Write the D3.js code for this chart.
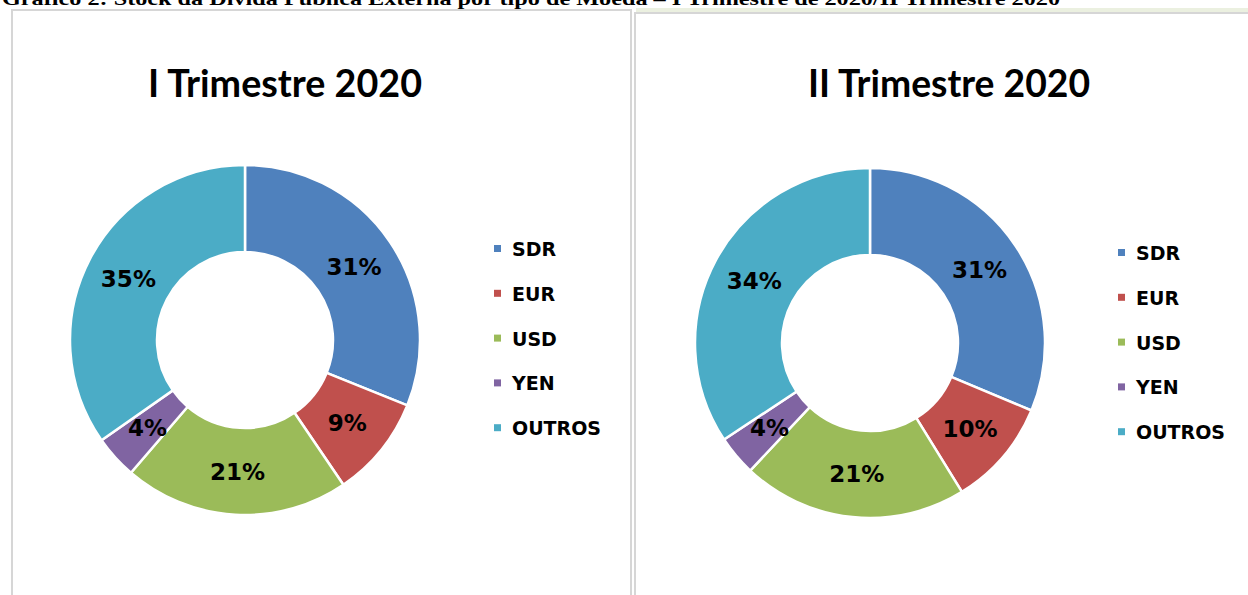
<!DOCTYPE html>
<html>
<head>
<meta charset="utf-8">
<script src="https://cdn.jsdelivr.net/npm/d3@7"></script>
<style>
  body { margin: 0; background: #fff; }
  svg { display: block; }
  .pct { font-family: "DejaVu Sans", sans-serif; font-weight: bold; font-size: 23px; fill: #000; }
  .ttl { font-family: Lato, "DejaVu Sans", sans-serif; font-weight: bold; font-size: 38px; fill: #000; }
  .leg { font-family: "DejaVu Sans", sans-serif; font-weight: bold; font-size: 19px; fill: #000; }
</style>
</head>
<body>
<div id="chart"></div>
<script>
// data
const categories = ['SDR', 'EUR', 'USD', 'YEN', 'OUTROS'];
const colors = ['#4F81BD', '#C0504D', '#9BBB59', '#8064A2', '#4BACC6'];
const q1Values = [31.1, 9.4, 20.8, 4.0, 34.7];
const q2Values = [31.3, 9.9, 20.8, 3.7, 34.3];
const titles = ['I Trimestre 2020', 'II Trimestre 2020'];
const headline = 'Gráfico 2: Stock da Dívida Pública Externa por tipo de Moeda – I Trimestre de 2020/II Trimestre 2020';

const W = 1248, H = 595;

const svg = d3.select('#chart').append('svg')
    .attr('width', W).attr('height', H);

// caption at the very top, clipped by the page edge as in the original
svg.append('text')
    .attr('x', 2).attr('y', 5)
    .attr('textLength', 1058)
    .attr('lengthAdjust', 'spacingAndGlyphs')
    .style('font-family', '"Liberation Serif", "Times New Roman", serif')
    .style('font-weight', 'bold')
    .style('font-size', '19px')
    .text(headline);

// panel frames
svg.append('rect')
    .attr('x', 12).attr('y', 10).attr('width', 619).attr('height', 600)
    .attr('fill', 'none').attr('stroke', '#d6d6d6').attr('stroke-width', 2);
svg.append('rect')
    .attr('x', 636).attr('y', 8).attr('width', 620).attr('height', 4)
    .attr('fill', '#ebf0e0');
svg.append('rect')
    .attr('x', 635).attr('y', 13).attr('width', 620).attr('height', 600)
    .attr('fill', 'none').attr('stroke', '#d6d6d6').attr('stroke-width', 2);

const panels = [
    { values: q1Values, title: titles[0], cx: 245, cy: 340, tx: 285, tw: 274, legX: 494, legY: 249 },
    { values: q2Values, title: titles[1], cx: 870, cy: 343, tx: 949, tw: 282, legX: 1118, legY: 253 }
];

const outerR = 175, innerR = 88;

const pie = d3.pie().sort(null).value(d => d.v);
const arc = d3.arc().innerRadius(innerR).outerRadius(outerR);

panels.forEach(p => {

    const data = categories.map((c, i) => ({ cat: c, v: p.values[i], color: colors[i] }));
    const total = d3.sum(data, d => d.v);

    svg.append('text')
        .attr('class', 'ttl')
        .attr('x', p.tx - p.tw / 2).attr('y', 97)
        .attr('textLength', p.tw)
        .attr('lengthAdjust', 'spacingAndGlyphs')
        .text(p.title);

    const g = svg.append('g')
        .attr('transform', 'translate(' + [p.cx, p.cy] + ')');

    const slices = pie(data);

    g.selectAll('path')
        .data(slices)
        .enter()
            .append('path')
            .attr('d', arc)
            .attr('fill', d => d.data.color)
            .attr('stroke', '#fff')
            .attr('stroke-width', 2.5);

    g.selectAll('.pct')
        .data(slices)
        .enter()
            .append('text')
            .attr('class', 'pct')
            .attr('transform', d => 'translate(' + arc.centroid(d) + ')')
            .attr('text-anchor', 'middle')
            .attr('dy', '0.36em')
            .text(d => Math.round(d.data.v / total * 100) + '%');

    const leg = svg.append('g')
        .attr('transform', 'translate(' + [p.legX, p.legY] + ')');

    const row = leg.selectAll('g')
        .data(data)
        .enter()
            .append('g')
            .attr('transform', (d, i) => 'translate(0,' + (i * 44.8) + ')');

    row.append('rect')
        .attr('x', 0).attr('y', -4)
        .attr('width', 7).attr('height', 7)
        .attr('fill', d => d.color);

    row.append('text')
        .attr('class', 'leg')
        .attr('x', 18).attr('y', 7)
        .text(d => d.cat);
});
</script>
</body>
</html>
